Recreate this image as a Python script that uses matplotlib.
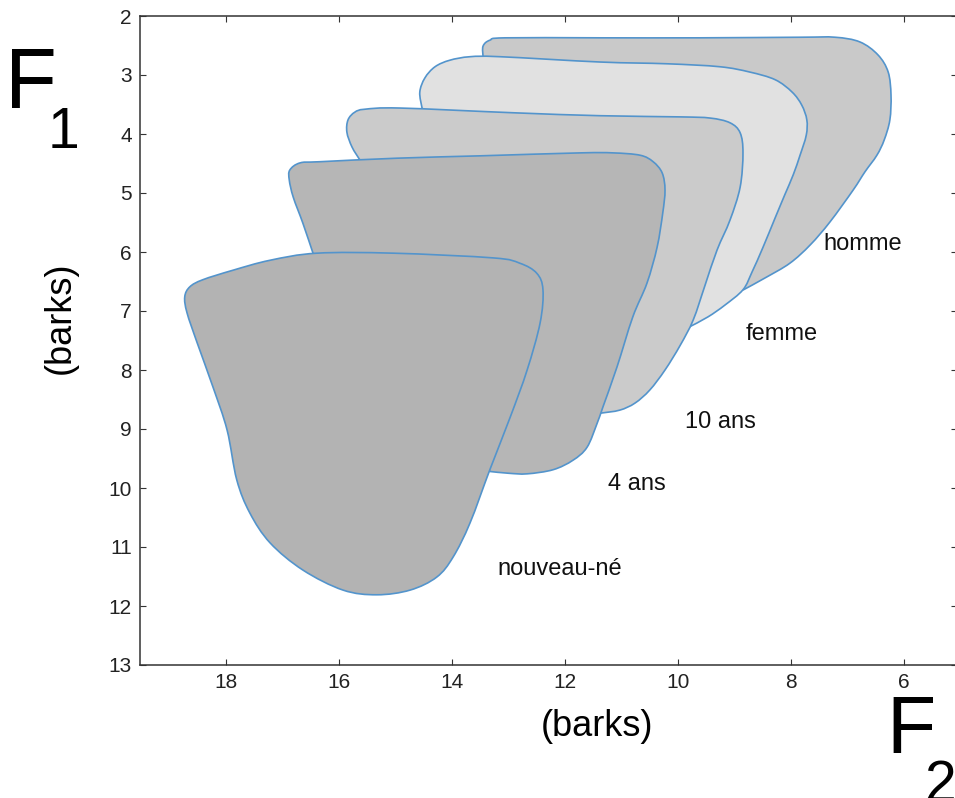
import numpy as np
import matplotlib
matplotlib.use('Agg')
import matplotlib.pyplot as plt
from matplotlib.path import Path
from matplotlib.patches import PathPatch

plt.rcParams['font.family'] = ['Liberation Sans', 'DejaVu Sans']

# ---------------- data (barks) ----------------
x_ticks = [18, 16, 14, 12, 10, 8, 6]
y_ticks = [2, 3, 4, 5, 6, 7, 8, 9, 10, 11, 12, 13]

labels = ["homme", "femme", "10 ans", "4 ans", "nouveau-né"]
label_x = [7.42, 8.81, 9.88, 11.24, 13.19]
label_y = [5.97, 7.49, 8.98, 10.03, 11.47]

# homme (F2, F1) outline (visible part) + hidden closing points
homme_x = [13.45, 13.45, 13.33, 13.06, 11.38, 9.61, 7.84, 7.22, 6.78, 6.46, 6.28, 6.23,
           6.25, 6.35, 6.48, 6.69, 6.90, 7.31, 7.66, 8.02, 8.46, 8.84]
homme_y = [2.69, 2.51, 2.41, 2.37, 2.37, 2.37, 2.36, 2.36, 2.44, 2.66, 2.95, 3.34,
           3.76, 4.10, 4.36, 4.64, 4.95, 5.49, 5.88, 6.19, 6.44, 6.64]
homme_hx = [9.35, 13.15]
homme_hy = [6.31, 3.00]

femme_x = [14.53, 14.57, 14.48, 14.30, 14.04, 13.68, 13.15, 11.38, 10.19, 9.26, 8.73, 8.28,
           7.98, 7.81, 7.72, 7.73, 7.84, 7.96, 8.11, 8.28, 8.50, 8.69, 8.85, 9.17, 9.47, 9.80]
femme_y = [3.56, 3.29, 3.05, 2.86, 2.75, 2.69, 2.69, 2.78, 2.81, 2.86, 2.95, 3.08,
           3.29, 3.51, 3.76, 4.02, 4.36, 4.69, 5.03, 5.42, 5.93, 6.34, 6.64, 6.90, 7.10, 7.27]
femme_hx = [9.96, 14.39]
femme_hy = [6.90, 3.68]

ans10_x = [15.63, 15.77, 15.86, 15.84, 15.72, 15.54, 14.92, 12.92, 11.38, 9.96, 9.43, 9.08,
           8.90, 8.85, 8.90, 9.08, 9.31, 9.52, 9.73, 9.96, 10.23, 10.50, 10.76, 11.03, 11.36]
ans10_y = [4.44, 4.22, 3.97, 3.76, 3.63, 3.58, 3.56, 3.64, 3.69, 3.71, 3.73, 3.81,
           3.98, 4.32, 4.90, 5.46, 5.97, 6.56, 7.15, 7.58, 8.00, 8.34, 8.56, 8.68, 8.73]
ans10_hx = [11.56, 15.36]
ans10_hy = [8.34, 4.61]

ans4_x = [16.46, 16.64, 16.81, 16.88, 16.87, 16.69, 16.34, 14.97, 13.50, 11.73, 11.15, 10.67,
          10.44, 10.28, 10.23, 10.27, 10.37, 10.55, 10.80, 11.08, 11.33, 11.43, 11.61, 11.86,
          12.21, 12.67, 13.00, 13.33]
ans4_y = [6.02, 5.51, 5.07, 4.78, 4.61, 4.49, 4.47, 4.41, 4.37, 4.32, 4.32, 4.36,
          4.47, 4.66, 4.95, 5.34, 5.92, 6.53, 7.10, 7.95, 8.63, 8.90, 9.31, 9.53,
          9.69, 9.76, 9.75, 9.72]
ans4_hx = [13.68, 15.98]
ans4_hy = [8.85, 6.47]

nn_x = [16.39, 15.04, 13.27, 12.80, 12.50, 12.39, 12.44, 12.67, 12.97, 13.33, 13.68, 13.98,
        14.27, 14.74, 15.33, 15.93, 16.64, 17.22, 17.58, 17.81, 17.98, 18.23, 18.51, 18.69,
        18.73, 18.64, 18.41, 17.88, 17.22]
nn_y = [6.02, 6.02, 6.10, 6.19, 6.36, 6.64, 7.20, 8.00, 8.80, 9.69, 10.59, 11.17,
        11.51, 11.73, 11.81, 11.73, 11.39, 10.93, 10.42, 9.86, 9.02, 8.29, 7.54, 7.03,
        6.76, 6.59, 6.47, 6.31, 6.14]

fills = ['#c9c9c9', '#e1e1e1', '#cbcbcb', '#b6b6b6', '#b3b3b3']
edge_color = '#5394cc'


def smooth_path(xs, ys, hx=None, hy=None):
    P = np.column_stack([xs, ys]).astype(float)
    n = len(P)
    closed = hx is None
    verts = [P[0]]
    codes = [Path.MOVETO]
    nseg = n if closed else n - 1
    for i in range(nseg):
        p1 = P[i]
        p2 = P[(i + 1) % n]
        if closed or i > 0:
            p0 = P[(i - 1) % n]
        else:
            p0 = p1
        if closed or i + 2 < n:
            p3 = P[(i + 2) % n]
        else:
            p3 = p2
        c1 = p1 + (p2 - p0) / 6.0
        c2 = p2 - (p3 - p1) / 6.0
        verts += [c1, c2, p2]
        codes += [Path.CURVE4] * 3
    if not closed:
        for a, b in zip(hx, hy):
            verts.append([a, b])
            codes.append(Path.LINETO)
    verts.append(P[0])
    codes.append(Path.CLOSEPOLY)
    return Path(np.array(verts), codes)


fig = plt.figure(figsize=(9.55, 7.98), dpi=100)
ax = fig.add_axes([140 / 955, 1 - 665 / 798, (957 - 140) / 955, (665 - 16) / 798])

shapes = [
    (homme_x, homme_y, homme_hx, homme_hy),
    (femme_x, femme_y, femme_hx, femme_hy),
    (ans10_x, ans10_y, ans10_hx, ans10_hy),
    (ans4_x, ans4_y, ans4_hx, ans4_hy),
    (nn_x, nn_y, None, None),
]
for k, (sx, sy, hx, hy) in enumerate(shapes):
    patch = PathPatch(smooth_path(sx, sy, hx, hy), facecolor=fills[k],
                      edgecolor=edge_color, lw=1.2, zorder=2 + k)
    ax.add_patch(patch)

for t, tx, ty in zip(labels, label_x, label_y):
    ax.text(tx, ty, t, fontsize=17, ha='left', va='baseline', color='#111111', zorder=10)

ax.set_xlim(19.522, 5.062)
ax.set_ylim(13, 2)
ax.set_xticks(x_ticks)
ax.set_yticks(y_ticks)
ax.tick_params(direction='in', length=4, width=0.8, top=True, right=True,
               labelsize=15, pad=6, colors='#333333', labelcolor='#222222')
for s in ax.spines.values():
    s.set_color('#333333')
    s.set_linewidth(1.1)

# axis titles
fig.text(597 / 955, 1 - 726 / 798, "(barks)", fontsize=26, ha='center', va='center')
fig.text(60 / 955, 1 - 318 / 798, "(barks)", fontsize=26, ha='center', va='center',
         rotation=90)
fig.text(5 / 955, 1 - 108 / 798, "F", fontsize=61, ha='left', va='baseline')
fig.text(63 / 955, 1 - 148 / 798, "1", fontsize=41, ha='center', va='baseline')
fig.text(886 / 955, 1 - 753 / 798, "F", fontsize=58, ha='left', va='baseline')
fig.text(924 / 955, 1 - 801 / 798, "2", fontsize=41, ha='left', va='baseline')

fig.savefig('out.png', dpi=100)
